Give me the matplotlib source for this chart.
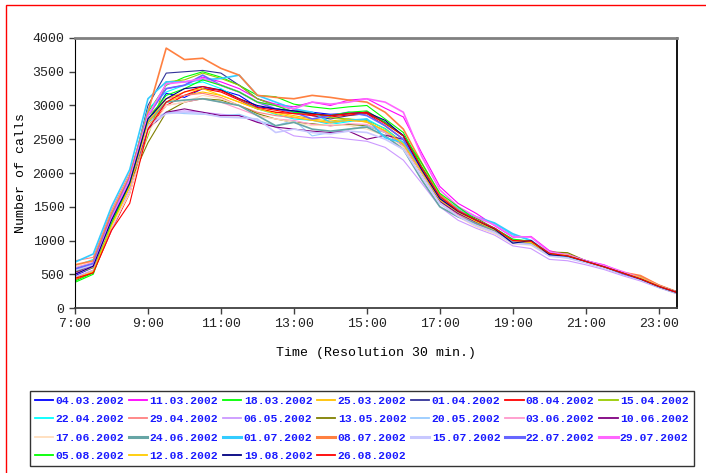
import matplotlib
matplotlib.use('Agg')
import matplotlib.pyplot as plt
from matplotlib.patches import Rectangle

# time axis: 7:00 .. 23:30, 30 min steps (index 0 = 7:00)
times = [7 + 0.5 * i for i in range(34)]

dates = ['04.03.2002', '11.03.2002', '18.03.2002', '25.03.2002', '01.04.2002',
         '08.04.2002', '15.04.2002', '22.04.2002', '29.04.2002', '06.05.2002',
         '13.05.2002', '20.05.2002', '03.06.2002', '10.06.2002', '17.06.2002',
         '24.06.2002', '01.07.2002', '08.07.2002', '15.07.2002', '22.07.2002',
         '29.07.2002', '05.08.2002', '12.08.2002', '19.08.2002', '26.08.2002']

colors = ['#0000ff', '#ff00ff', '#00ff00', '#ffc000', '#333399',
          '#ff0000', '#99cc00', '#00ffff', '#ff8080', '#cc99ff',
          '#808000', '#99ccff', '#ff99cc', '#800080', '#ffddbb',
          '#66a5a5', '#33ccff', '#ff8040', '#c8c8ff', '#6666ff',
          '#ff66ff', '#00ff00', '#ffcc00', '#000080', '#ff0000']

widths = [0.8] * 15 + [1.2] * 6 + [0.8] * 4

s01 = [480, 600, 1250, 1800, 2750, 3180, 3120, 3250, 3230, 3150, 2980, 2950, 2920, 2900, 2870, 2880, 2900,
       2750, 2560, 2080, 1650, 1450, 1300, 1180, 980, 1000, 800, 770, 690, 620, 520, 440, 330, 240]
s02 = [520, 620, 1280, 1850, 2850, 3250, 3300, 3420, 3350, 3250, 3100, 3020, 2980, 3050, 3000, 3080, 3100,
       2960, 2830, 2300, 1800, 1550, 1400, 1220, 1050, 1060, 850, 780, 700, 640, 530, 450, 330, 220]
s03 = [400, 520, 1320, 1950, 2900, 3300, 3420, 3500, 3420, 3300, 3150, 3130, 3020, 2980, 2950, 2980, 3000,
       2800, 2600, 2100, 1680, 1430, 1280, 1170, 1000, 980, 800, 760, 690, 610, 520, 430, 320, 230]
s04 = [450, 560, 1200, 1800, 2700, 3050, 3150, 3200, 3150, 3050, 2950, 2900, 2850, 2800, 2770, 2800, 2750,
       2620, 2420, 2030, 1600, 1400, 1250, 1150, 990, 970, 790, 760, 690, 610, 520, 440, 320, 230]
s05 = [560, 650, 1350, 1900, 3000, 3480, 3500, 3520, 3480, 3300, 3100, 3000, 2950, 2850, 2800, 2850, 2880,
       2750, 2550, 2050, 1600, 1420, 1280, 1160, 980, 960, 790, 760, 690, 610, 520, 430, 320, 220]
s06 = [420, 530, 1150, 1700, 2650, 3000, 3150, 3250, 3200, 3080, 2950, 2900, 2880, 2850, 2830, 2860, 2880,
       2700, 2500, 2050, 1620, 1430, 1290, 1170, 1000, 990, 810, 770, 690, 610, 520, 430, 320, 230]
s07 = [500, 600, 1250, 1850, 2550, 3350, 3380, 3480, 3400, 3300, 3100, 3000, 2950, 2880, 2820, 2800, 2780,
       2660, 2450, 2030, 1620, 1460, 1310, 1170, 1010, 990, 820, 800, 700, 620, 530, 470, 340, 240]
s08 = [620, 720, 1400, 1950, 2950, 3200, 3300, 3350, 3250, 3100, 2950, 2870, 2800, 2780, 2720, 2760, 2800,
       2650, 2450, 2050, 1620, 1450, 1330, 1250, 1080, 1000, 810, 770, 690, 610, 520, 430, 320, 230]
s09 = [700, 750, 1450, 2000, 2850, 3100, 3150, 3180, 3120, 3000, 2900, 2850, 2820, 2780, 2740, 2780, 2760,
       2620, 2420, 2000, 1580, 1380, 1240, 1140, 980, 960, 780, 750, 680, 600, 510, 420, 310, 220]
s10 = [460, 560, 1150, 1750, 2700, 2900, 2920, 2900, 2870, 2850, 2760, 2680, 2550, 2520, 2530, 2500, 2470,
       2380, 2190, 1850, 1500, 1300, 1180, 1080, 920, 880, 720, 700, 640, 570, 480, 400, 300, 210]
s11 = [530, 620, 1300, 1850, 2450, 2900, 3050, 3100, 3080, 3000, 2880, 2800, 2750, 2730, 2700, 2720, 2700,
       2600, 2400, 2000, 1600, 1440, 1330, 1180, 1000, 970, 830, 820, 700, 620, 530, 450, 330, 240]
s12 = [580, 660, 1330, 1900, 2750, 2900, 2880, 2870, 2850, 2870, 2780, 2700, 2780, 2550, 2600, 2650, 2700,
       2600, 2480, 2000, 1580, 1400, 1260, 1180, 1020, 980, 800, 760, 680, 600, 510, 420, 310, 220]
s13 = [600, 680, 1350, 1880, 2800, 3000, 3050, 3100, 3050, 2950, 2850, 2800, 2780, 2720, 2700, 2730, 2720,
       2600, 2400, 2000, 1600, 1420, 1270, 1160, 1000, 980, 800, 770, 690, 610, 520, 430, 320, 230]
s14 = [540, 630, 1300, 1850, 2650, 2900, 2950, 2900, 2850, 2850, 2750, 2680, 2650, 2620, 2600, 2620, 2500,
       2560, 2500, 2050, 1580, 1400, 1270, 1150, 990, 960, 790, 760, 690, 610, 520, 430, 320, 230]
s15 = [620, 700, 1200, 1700, 2600, 3000, 3050, 3150, 3100, 3000, 2850, 2800, 2750, 2700, 2720, 2700, 2650,
       2550, 2380, 1950, 1550, 1350, 1200, 1100, 950, 930, 770, 740, 670, 590, 500, 420, 310, 220]
s16 = [550, 640, 1300, 1850, 2750, 3050, 3080, 3100, 3050, 3000, 2850, 2700, 2750, 2650, 2620, 2650, 2680,
       2550, 2350, 1900, 1500, 1350, 1250, 1150, 980, 950, 780, 750, 680, 600, 510, 430, 310, 220]
s17 = [680, 800, 1500, 2050, 3100, 3350, 3350, 3380, 3400, 3450, 3150, 3050, 2950, 2900, 2750, 2780, 2800,
       2520, 2450, 2050, 1650, 1480, 1350, 1260, 1100, 1000, 800, 760, 680, 610, 520, 430, 320, 230]
s18 = [640, 700, 1400, 1950, 2900, 3850, 3680, 3700, 3550, 3450, 3150, 3120, 3100, 3150, 3120, 3080, 3050,
       2900, 2650, 2150, 1680, 1450, 1300, 1180, 1000, 980, 800, 780, 700, 620, 530, 480, 340, 240]
s19 = [560, 640, 1300, 1880, 2700, 2880, 2900, 2880, 2830, 2820, 2800, 2600, 2650, 2600, 2580, 2620, 2600,
       2500, 2350, 1950, 1550, 1360, 1220, 1120, 960, 940, 770, 740, 670, 590, 500, 420, 310, 220]
s20 = [580, 660, 1350, 1920, 2850, 3250, 3300, 3450, 3300, 3200, 3050, 2950, 2900, 2800, 2850, 2900, 2850,
       2700, 2500, 2050, 1620, 1440, 1300, 1180, 1000, 990, 800, 780, 700, 620, 510, 430, 320, 230]
s21 = [500, 620, 1330, 1900, 2850, 3320, 3350, 3400, 3300, 3200, 3050, 3000, 2950, 3050, 3020, 3050, 3100,
       3050, 2900, 2250, 1750, 1500, 1350, 1230, 1060, 1050, 830, 790, 700, 630, 540, 450, 330, 230]
s22 = [380, 500, 1250, 1850, 2800, 3150, 3250, 3380, 3300, 3200, 3050, 3000, 2900, 2880, 2850, 2900, 2920,
       2750, 2550, 2150, 1700, 1500, 1300, 1180, 1020, 990, 810, 770, 690, 610, 520, 430, 320, 230]
s23 = [430, 540, 1220, 1800, 2750, 3100, 3200, 3250, 3150, 3050, 2950, 2880, 2830, 2780, 2750, 2780, 2760,
       2630, 2430, 2020, 1600, 1420, 1280, 1160, 1000, 970, 800, 780, 690, 610, 520, 450, 330, 230]
s24 = [500, 620, 1300, 1850, 2800, 3100, 3250, 3280, 3230, 3100, 3000, 2950, 2920, 2880, 2850, 2880, 2900,
       2780, 2550, 2050, 1620, 1430, 1300, 1170, 960, 1000, 790, 770, 690, 610, 520, 430, 320, 230]
s25 = [440, 520, 1150, 1550, 2650, 3050, 3200, 3280, 3220, 3100, 2970, 2930, 2880, 2870, 2850, 2880, 2900,
       2730, 2550, 2080, 1650, 1440, 1300, 1180, 1000, 990, 810, 770, 690, 610, 520, 430, 320, 230]

series = [s01, s02, s03, s04, s05, s06, s07, s08, s09, s10, s11, s12, s13,
          s14, s15, s16, s17, s18, s19, s20, s21, s22, s23, s24, s25]

mono = 'Liberation Mono'

fig = plt.figure(figsize=(7.06, 4.73), dpi=100)
ax = fig.add_axes([75 / 706, 1 - 308 / 473, 602 / 706, 270 / 473])

lines = []
for name, col, lw, vals in zip(dates, colors, widths, series):
    ln, = ax.plot(times, vals, color=col, lw=lw, label=name)
    lines.append(ln)

ax.set_xlim(7, 23.5)
ax.set_ylim(0, 4000)
ax.set_xticks(range(7, 24, 2))
ax.set_xticklabels(['%d:00' % h for h in range(7, 24, 2)], fontfamily=mono, fontsize=9.5)
ax.set_yticks(range(0, 4001, 500))
ax.set_yticklabels([str(v) for v in range(0, 4001, 500)], fontfamily=mono, fontsize=9.5)
ax.tick_params(direction='out', length=4, width=1, colors='#404040', labelcolor='#222222')

ax.spines['top'].set_color('#808080')
ax.spines['top'].set_linewidth(2)
ax.spines['left'].set_color('black')
ax.spines['right'].set_color('black')
ax.spines['right'].set_linewidth(1.3)
ax.spines['bottom'].set_color('#404040')
ax.spines['bottom'].set_linewidth(1.3)

ax.set_ylabel('Number of calls', fontfamily=mono, fontsize=9.5, labelpad=4)
ax.set_xlabel('Time (Resolution 30 min.)', fontfamily=mono, fontsize=9.5, labelpad=12)

# legend is filled row by row (7 per row) -> reorder for matplotlib's column filling
ncol, nrow = 7, 4
order = [r * ncol + c for c in range(ncol) for r in range(nrow) if r * ncol + c < len(lines)]
leg = fig.legend([lines[i] for i in order], [dates[i] for i in order],
                 loc='upper left', bbox_to_anchor=(30 / 706, 1 - 391 / 473), ncol=ncol,
                 prop={'family': mono, 'size': 8.2, 'weight': 'bold'},
                 handlelength=1.6, handletextpad=0.2, columnspacing=0.42,
                 labelspacing=0.72, borderpad=0.45, borderaxespad=0,
                 fancybox=False, shadow=False, frameon=True)
leg.get_frame().set_edgecolor('black')
leg.get_frame().set_linewidth(1.0)
for t in leg.get_texts():
    t.set_color('#1a1aff')
for h, i in zip(leg.legend_handles, order):
    h.set_linewidth(2.2 if widths[i] > 1 else 1.3)

# red page border (left and top)
fig.add_artist(Rectangle((6 / 706, -0.1), 1.2, 1.1 - 5 / 473, transform=fig.transFigure,
                         fill=False, edgecolor='red', lw=1.0))

plt.savefig('out.png', dpi=100)
